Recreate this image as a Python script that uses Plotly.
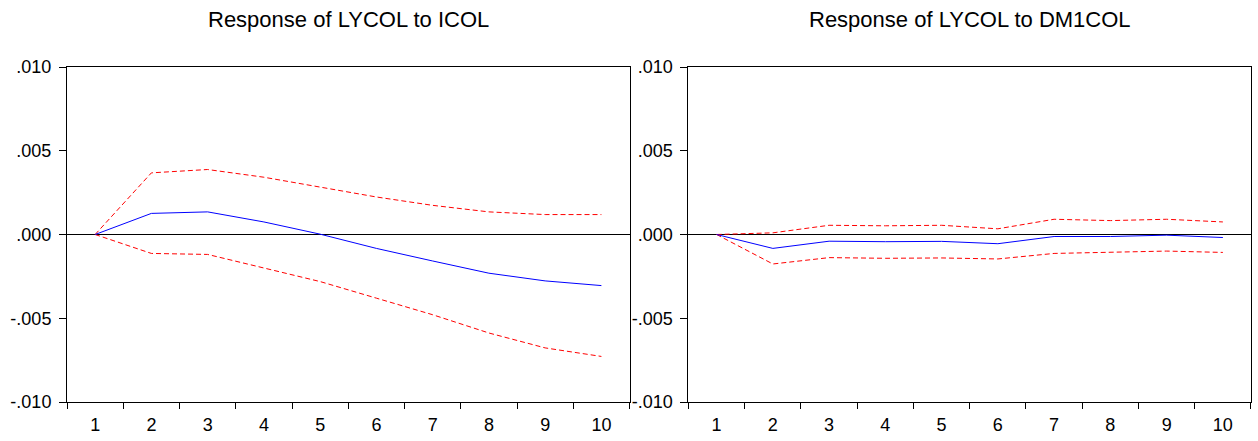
import plotly.graph_objects as go

periods = ["1", "2", "3", "4", "5", "6", "7", "8", "9", "10"]

icol_resp = [0.0, 0.00126, 0.00135, 0.00075, 0.00002, -0.00083, -0.00158, -0.00231, -0.00277, -0.00305]
icol_upper = [0.0, 0.00368, 0.00388, 0.00342, 0.00283, 0.00224, 0.00174, 0.00135, 0.00119, 0.00119]
icol_lower = [0.0, -0.00113, -0.00119, -0.00202, -0.00281, -0.0038, -0.00479, -0.00588, -0.00677, -0.00728]

dm1_resp = [0.0, -0.00083, -0.0004, -0.00043, -0.00041, -0.00055, -0.00012, -0.00012, -0.00004, -0.00018]
dm1_upper = [0.0, 0.0001, 0.00055, 0.00052, 0.00055, 0.00034, 0.00091, 0.00083, 0.00091, 0.00075]
dm1_lower = [0.0, -0.00176, -0.00138, -0.00142, -0.0014, -0.00146, -0.00113, -0.00107, -0.00099, -0.00107]

ytick_vals = [-0.01, -0.005, 0.0, 0.005, 0.01]
ytick_text = ["-.010", "-.005", ".000", ".005", ".010"]

titles = ["Response of LYCOL to ICOL", "Response of LYCOL to DM1COL"]

fig = go.Figure()

panels = [
    ("x", "y", icol_resp, icol_upper, icol_lower),
    ("x2", "y2", dm1_resp, dm1_upper, dm1_lower),
]
for xa, ya, resp, up, lo in panels:
    fig.add_trace(go.Scatter(x=periods, y=up, xaxis=xa, yaxis=ya, mode="lines",
                             line=dict(color="#ff0000", width=1, dash="5px,3px"),
                             showlegend=False, hoverinfo="skip"))
    fig.add_trace(go.Scatter(x=periods, y=lo, xaxis=xa, yaxis=ya, mode="lines",
                             line=dict(color="#ff0000", width=1, dash="5px,3px"),
                             showlegend=False, hoverinfo="skip"))
    fig.add_trace(go.Scatter(x=periods, y=resp, xaxis=xa, yaxis=ya, mode="lines",
                             line=dict(color="#0000ff", width=1),
                             showlegend=False))

font_family = "Liberation Sans, Arial, sans-serif"

xcommon = dict(type="category", range=[-0.5, 9.5], tickson="boundaries",
               ticks="outside", ticklen=6, ticklabelstandoff=6,
               tickcolor="black", showline=True, linecolor="black", linewidth=1,
               mirror=True, showgrid=False, zeroline=False,
               tickfont=dict(size=18, color="black", family=font_family))
ycommon = dict(range=[-0.01, 0.01], tickvals=ytick_vals, ticktext=ytick_text,
               ticks="outside", ticklen=7, ticklabelstandoff=4,
               tickcolor="black", showline=True,
               linecolor="black", linewidth=1, mirror=True, showgrid=False,
               zeroline=True, zerolinecolor="black", zerolinewidth=1,
               tickfont=dict(size=18, color="black", family=font_family))

d1 = 563 / 1185
d2 = 622 / 1185

fig.update_layout(
    width=1258, height=441,
    margin=dict(l=67, r=6, t=67, b=37),
    paper_bgcolor="white", plot_bgcolor="white",
    font=dict(family=font_family, color="black"),
    xaxis=dict(domain=[0, d1], anchor="y", **xcommon),
    yaxis=dict(domain=[0, 1], anchor="x", **ycommon),
    xaxis2=dict(domain=[d2, 1], anchor="y2", **xcommon),
    yaxis2=dict(domain=[0, 1], anchor="x2", **ycommon),
    annotations=[
        dict(text=titles[0], x=d1 / 2, y=1, xref="paper", yref="paper",
             xanchor="center", yanchor="bottom", yshift=33, showarrow=False,
             font=dict(size=22, color="black", family=font_family)),
        dict(text=titles[1], x=(d2 + 1) / 2, y=1, xref="paper", yref="paper",
             xanchor="center", yanchor="bottom", yshift=33, showarrow=False,
             font=dict(size=22, color="black", family=font_family)),
    ],
)

fig.write_html("out.html")
